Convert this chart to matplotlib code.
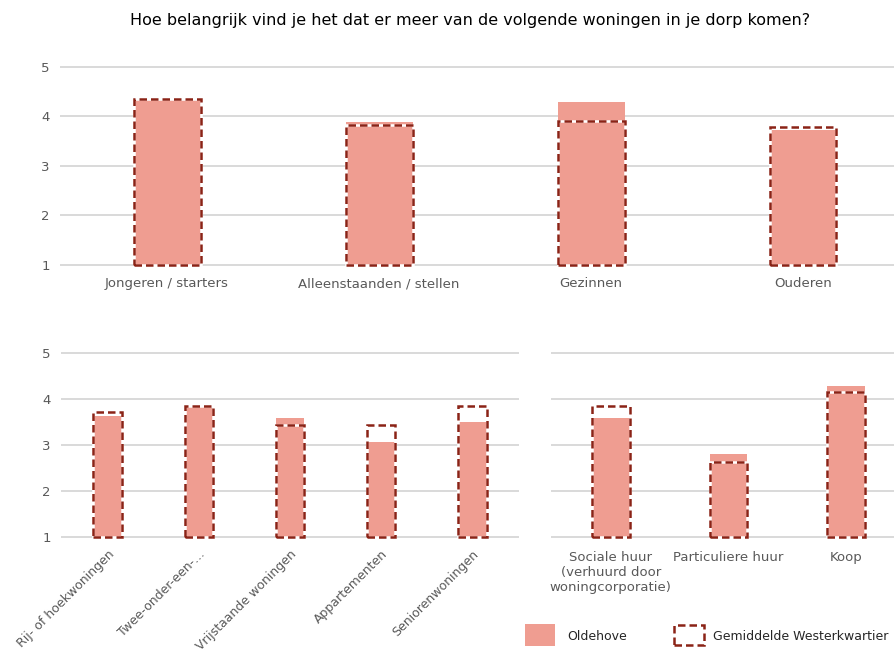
import matplotlib
matplotlib.use("Agg")
import matplotlib.pyplot as plt
from matplotlib.patches import Rectangle

# ---- data ----
top_categories = ["Jongeren / starters", "Alleenstaanden / stellen", "Gezinnen", "Ouderen"]
top_oldehove = [4.35, 3.89, 4.29, 3.72]
top_westerkwartier = [4.35, 3.82, 3.91, 3.79]

woning_categories = ["Rij- of hoekwoningen", "Twee-onder-een-…", "Vrijstaande woningen",
                     "Appartementen", "Seniorenwoningen"]
woning_oldehove = [3.62, 3.83, 3.58, 3.06, 3.49]
woning_westerkwartier = [3.70, 3.83, 3.43, 3.43, 3.83]

eigendom_categories = ["Sociale huur\n(verhuurd door\nwoningcorporatie)", "Particuliere huur", "Koop"]
eigendom_oldehove = [3.58, 2.80, 4.28]
eigendom_westerkwartier = [3.83, 2.62, 4.15]

yticks = [1, 2, 3, 4, 5]
title = "Hoe belangrijk vind je het dat er meer van de volgende woningen in je dorp komen?"
legend_labels = ["Oldehove", "Gemiddelde Westerkwartier"]

# ---- style ----
FILL = "#EF9D91"
EDGE = "#8B2316"
GRID = "#D9D9D9"
TXT = "#595959"
BASE = 1

plt.rcParams['font.family'] = ['DejaVu Sans']

fig = plt.figure(figsize=(8.95, 6.52), dpi=100)


def draw(ax, cats, fill_vals, avg_vals, width, xmax, show_y=True, rotate=False, xpad=9):
    x = list(range(len(cats)))
    ax.set_ylim(1, 5)
    ax.set_xlim(-0.5, xmax)
    for t in yticks:
        ax.axhline(t, color=GRID, lw=1.4, zorder=0, clip_on=False)
    ax.bar(x, [v - BASE for v in fill_vals], bottom=BASE, width=width, color=FILL,
           zorder=2, linewidth=0)
    ax.bar(x, [v - BASE for v in avg_vals], bottom=BASE, width=width, facecolor="none",
           edgecolor="white", linewidth=1.8, zorder=3, clip_on=False)
    ax.bar(x, [v - BASE for v in avg_vals], bottom=BASE, width=width, facecolor="none",
           edgecolor=EDGE, linewidth=1.8, linestyle=(0, (3, 1.6)), zorder=4, clip_on=False)
    for s in ax.spines.values():
        s.set_visible(False)
    ax.set_yticks(yticks)
    if show_y:
        ax.set_yticklabels([str(t) for t in yticks], color=TXT, fontsize=9.5)
    else:
        ax.set_yticklabels([])
    ax.tick_params(axis='y', length=0, pad=8)
    ax.tick_params(axis='x', length=0, pad=xpad)
    ax.set_xticks(x)
    if rotate:
        ax.set_xticklabels(cats, rotation=45, ha='right', rotation_mode='anchor',
                           color=TXT, fontsize=9)
    else:
        ax.set_xticklabels(cats, color=TXT, fontsize=9.5, linespacing=1.2)


ax1 = fig.add_axes([0.0682, 0.5936, 0.9318, 0.3041])
draw(ax1, top_categories, top_oldehove, top_westerkwartier, 0.316, 3.434, xpad=9)

ax2 = fig.add_axes([0.0693, 0.1769, 0.5095, 0.2822])
draw(ax2, woning_categories, woning_oldehove, woning_westerkwartier, 0.31, 4.5, rotate=True,
     xpad=8)

ax3 = fig.add_axes([0.6168, 0.1769, 0.3832, 0.2822])
draw(ax3, eigendom_categories, eigendom_oldehove, eigendom_westerkwartier, 0.32, 2.415,
     show_y=False, xpad=10)

fig.text(0.525, 0.968, title, ha='center', va='center', fontsize=11.5, color="black")

# legend (figure coordinates)
W, H = 895, 652
def fx(px): return px / W
def fy(py): return 1 - py / H

fig.patches.append(Rectangle((fx(525), fy(646)), fx(555) - fx(525), fy(624) - fy(646),
                             transform=fig.transFigure, facecolor=FILL, edgecolor="none"))
fig.patches.append(Rectangle((fx(674), fy(645)), fx(704) - fx(674), fy(625) - fy(645),
                             transform=fig.transFigure, facecolor="none", edgecolor=EDGE,
                             linewidth=1.8, linestyle=(0, (3, 1.6))))
fig.text(fx(567), fy(636), legend_labels[0], ha='left', va='center', fontsize=9, color="#262626")
fig.text(fx(713), fy(636), legend_labels[1], ha='left', va='center', fontsize=9, color="#262626")

fig.savefig("out.png", dpi=100)
